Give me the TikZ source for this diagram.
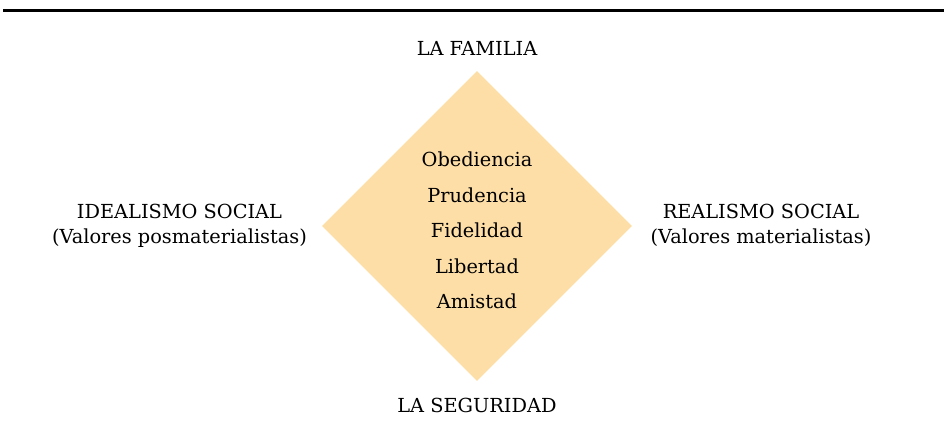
\documentclass[tikz,border=0pt]{standalone}
\usepackage{fontspec}
\setmainfont{DejaVu Serif}
\usetikzlibrary{shapes.geometric}
\definecolor{arena}{RGB}{253,222,166}
\tikzset{
  etiqueta/.style={font=\fontsize{14.5}{18.4}\selectfont, align=center, anchor=base, inner sep=0pt},
  valor/.style={font=\fontsize{14.5}{26.7}\selectfont, align=center, inner sep=0pt},
  rombo/.style={diamond, fill=arena, draw=none, minimum width=232.5pt, minimum height=232.5pt, inner sep=0pt},
}
\begin{document}
\begin{tikzpicture}[x=0.75pt,y=-0.75pt]
\useasboundingbox (0,0) rectangle (944,434);
\coordinate (rl) at (3,10.6);
\coordinate (rr) at (944,10.6);
\draw[line width=2.4pt] (rl) -- (rr);

\node[rombo] at (477,226) (centro) {};
\node[valor] at (477,230.5) (valores) {Obediencia\\Prudencia\\Fidelidad\\Libertad\\Amistad};

% base anchor sits on the last line
\node[etiqueta] at (477,56)      (familia)   {LA FAMILIA};
\node[etiqueta] at (477,412.7)   (seguridad) {LA SEGURIDAD};
\node[etiqueta] at (179.5,243.5) (idealismo) {IDEALISMO SOCIAL\\(Valores posmaterialistas)};
\node[etiqueta] at (761,243.5)   (realismo)  {REALISMO SOCIAL\\(Valores materialistas)};
\end{tikzpicture}
\end{document}
